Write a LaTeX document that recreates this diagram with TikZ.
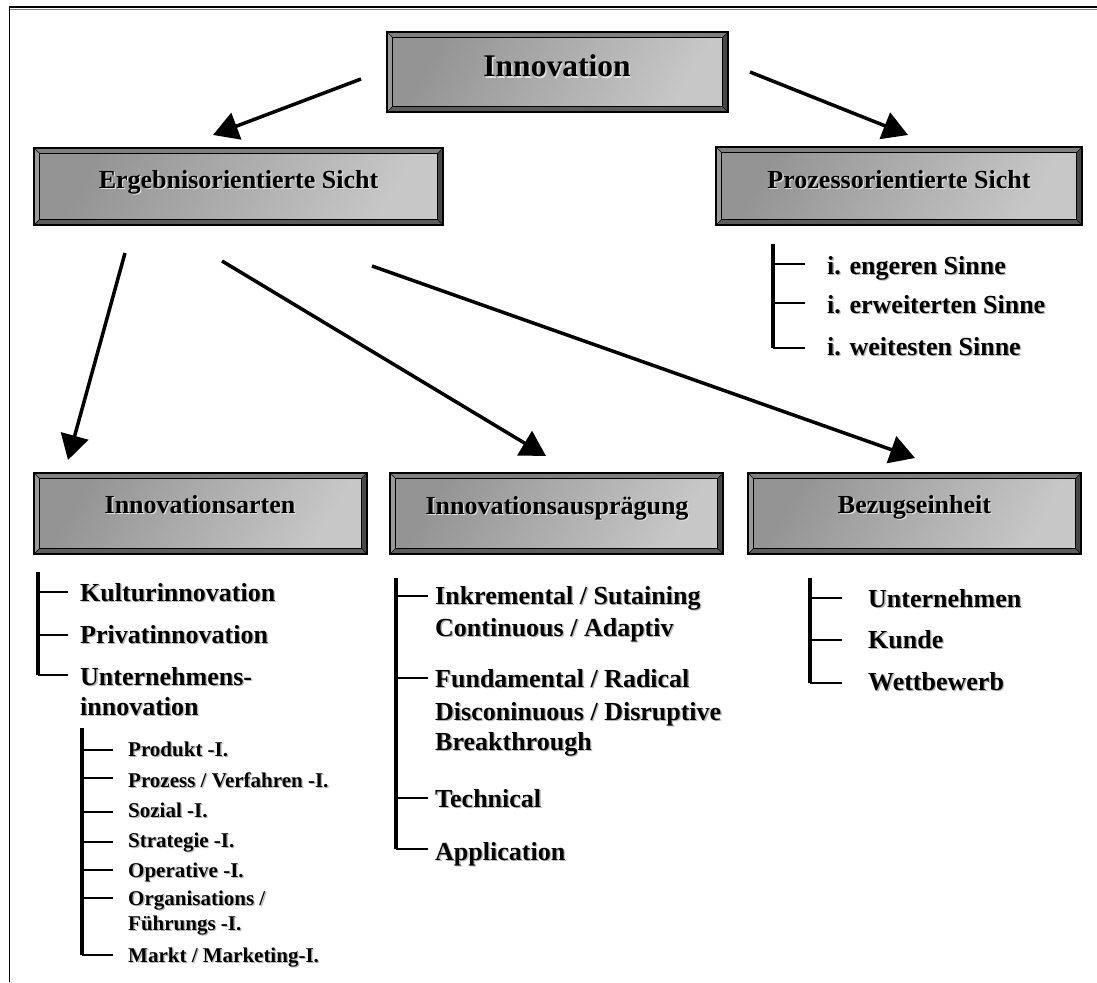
\documentclass[tikz,border=0pt]{standalone}
\usepackage{fontspec}
\setmainfont{Liberation Serif}
\usetikzlibrary{arrows.meta}

\definecolor{bevTop}{gray}{0.50}
\definecolor{bevLeft}{gray}{0.60}
\definecolor{bevRight}{gray}{0.28}
\definecolor{bevBot}{gray}{0.36}
\definecolor{fillDark}{gray}{0.58}
\definecolor{fillMid}{gray}{0.73}
\definecolor{fillLight}{gray}{0.78}
\definecolor{shadowList}{gray}{0.72}
\definecolor{shadowBox}{gray}{0.88}

% text with a soft drop shadow
\newcommand\ShTxt[2]{\makebox[0pt][l]{\kern1.3pt\raisebox{-1.3pt}{\textcolor{#1}{#2}}}#2}

% bevelled grey box: name, x1, y1, x2, y2, text x, baseline y, font size, label
\newcommand\BevelBox[9]{%
  \fill[bevTop] (#2,#3) -- (#4,#3) -- ({#4-5.5},{#3+5.5}) -- ({#2+5.5},{#3+5.5}) -- cycle;
  \fill[bevLeft] (#2,#3) -- ({#2+5.5},{#3+5.5}) -- ({#2+5.5},{#5-5.5}) -- (#2,#5) -- cycle;
  \fill[bevRight] (#4,#3) -- (#4,#5) -- ({#4-5.5},{#5-5.5}) -- ({#4-5.5},{#3+5.5}) -- cycle;
  \fill[bevBot] (#2,#5) -- (#4,#5) -- ({#4-5.5},{#5-5.5}) -- ({#2+5.5},{#5-5.5}) -- cycle;
  \shade[top color=fillDark, middle color=fillMid, bottom color=fillLight, shading angle=60]
    ({#2+5.5},{#3+5.5}) rectangle ({#4-5.5},{#5-5.5});
  \draw[line width=0.9pt] ({#2+5.5},{#3+5.5}) rectangle ({#4-5.5},{#5-5.5});
  \draw[line width=0.6pt] (#2,#3) -- ++(5.5,5.5) (#4,#3) -- ++(-5.5,5.5)
    (#2,#5) -- ++(5.5,-5.5) (#4,#5) -- ++(-5.5,-5.5);
  \draw[line width=1.6pt] (#2,#3) rectangle (#4,#5);
  \node[boxlbl, font=\fontsize{#8}{#8}\selectfont\bfseries] (#1) at (#6,#7) {\ShTxt{shadowBox}{#9}};
}

\tikzset{
  boxlbl/.style={inner sep=0pt, anchor=base},
  item/.style={inner sep=0pt, anchor=base west, font=\fontsize{26}{30}\selectfont\bfseries},
  subitem/.style={inner sep=0pt, anchor=base west, font=\fontsize{21}{25}\selectfont\bfseries},
  trunk/.style={line width=3.4pt},
  elbow/.style={line width=2.6pt},
  twig/.style={line width=1.8pt},
  arr/.style={line width=3.5pt, -{Triangle[length=25pt,width=28pt]}},
}

\begin{document}
\begin{tikzpicture}[x=1pt, y=-1pt]
\useasboundingbox (0,0) rectangle (1097,982);

% frame
\draw[line width=2pt] (9,7.5) -- (1097,7.5);
\draw[gray, line width=1pt] (9,9.4) -- (1097,9.4);
\draw[line width=1.3pt] (9.5,7) -- (9.5,982);

% boxes
\BevelBox{inno}{387}{32}{728}{112}{557}{77}{31.5}{Innovation}
\BevelBox{ergeb}{34}{148}{443}{225}{238.5}{188}{26}{Ergebnisorientierte Sicht}
\BevelBox{proz}{716}{147}{1082}{225}{899}{188}{26}{Prozessorientierte Sicht}
\BevelBox{arten}{34}{473}{367}{554}{200}{513}{26}{Innovationsarten}
\BevelBox{auspr}{390}{473}{723}{554}{557}{514}{26}{Innovationsausprägung}
\BevelBox{bezug}{748}{473}{1081}{554}{914.5}{513}{26}{Bezugseinheit}

% arrows
\coordinate (a1s) at (361,79);  \coordinate (a1e) at (213,135);
\coordinate (a2s) at (750,72);  \coordinate (a2e) at (908,135);
\coordinate (a3s) at (125,253); \coordinate (a3e) at (68,460);
\coordinate (a4s) at (222,261); \coordinate (a4e) at (546,456);
\coordinate (a5s) at (372,266); \coordinate (a5e) at (915,458);
\draw[arr] (a1s) -- (a1e);
\draw[arr] (a2s) -- (a2e);
\draw[arr] (a3s) -- (a3e);
\draw[arr] (a4s) -- (a4e);
\draw[arr] (a5s) -- (a5e);

% process view list
\node[item] (p1) at (827,274) {\ShTxt{shadowList}{i. engeren Sinne}};
\node[item] (p2) at (827,313) {\ShTxt{shadowList}{i. erweiterten Sinne}};
\node[item] (p3) at (827,355) {\ShTxt{shadowList}{i. weitesten Sinne}};
\coordinate (pTop) at (773,244);
\draw[trunk] (pTop) -- ([shift={(-54,-7)}]p3.base west);
\draw[elbow] ([shift={(-54,-7)}]p3.base west) -- ++(32,0);
\draw[twig] ([shift={(-22,-10)}]p1.base west) -- ++(-32,0);
\draw[twig] ([shift={(-22,-10)}]p2.base west) -- ++(-32,0);

% kinds of innovation
\node[item] (k1) at (80,601) {\ShTxt{shadowList}{Kulturinnovation}};
\node[item] (k2) at (80,643) {\ShTxt{shadowList}{Privatinnovation}};
\node[item] (k3) at (80,685) {\ShTxt{shadowList}{Unternehmens-}};
\node[item] (k3b) at (80,715) {\ShTxt{shadowList}{innovation}};
\coordinate (kTop) at (38,572);
\draw[trunk] (kTop) -- ([shift={(-42,-10)}]k3.base west);
\draw[elbow] ([shift={(-42,-10)}]k3.base west) -- ++(30,0);
\draw[twig] ([shift={(-12,-9)}]k1.base west) -- ++(-30,0);
\draw[twig] ([shift={(-12,-8)}]k2.base west) -- ++(-30,0);

% company innovation sub-list
\node[subitem] (s1) at (128,756) {\ShTxt{shadowList}{Produkt -I.}};
\node[subitem] (s2) at (128,787) {\ShTxt{shadowList}{Prozess / Verfahren -I.}};
\node[subitem] (s3) at (128,817) {\ShTxt{shadowList}{Sozial -I.}};
\node[subitem] (s4) at (128,847) {\ShTxt{shadowList}{Strategie -I.}};
\node[subitem] (s5) at (128,877) {\ShTxt{shadowList}{Operative -I.}};
\node[subitem] (s6) at (128,905) {\ShTxt{shadowList}{Organisations /}};
\node[subitem] (s6b) at (128,930) {\ShTxt{shadowList}{Führungs -I.}};
\node[subitem] (s7) at (128,962) {\ShTxt{shadowList}{Markt / Marketing-I.}};
\coordinate (sTop) at (82,728);
\draw[trunk] (sTop) -- ([shift={(-46,-7)}]s7.base west);
\draw[elbow] ([shift={(-46,-7)}]s7.base west) -- ++(31,0);
\foreach \n/\d in {s1/6, s2/9, s3/5, s4/5, s5/7, s6/7}
  \draw[twig] ([shift={(-15,-\d)}]\n.base west) -- ++(-31,0);

% degree of innovation
\node[item] (i1) at (435,604) {\ShTxt{shadowList}{Inkremental / Sutaining}};
\node[item] (i1b) at (435,636) {\ShTxt{shadowList}{Continuous / Adaptiv}};
\node[item] (i2) at (435,687) {\ShTxt{shadowList}{Fundamental / Radical}};
\node[item] (i2b) at (435,720) {\ShTxt{shadowList}{Disconinuous / Disruptive}};
\node[item] (i2c) at (435,750) {\ShTxt{shadowList}{Breakthrough}};
\node[item] (i3) at (435,807) {\ShTxt{shadowList}{Technical}};
\node[item] (i4) at (435,860) {\ShTxt{shadowList}{Application}};
\coordinate (iTop) at (396,578);
\draw[trunk] (iTop) -- ([shift={(-39,-11)}]i4.base west);
\draw[elbow] ([shift={(-39,-11)}]i4.base west) -- ++(32,0);
\draw[twig] ([shift={(-7,-8)}]i1.base west) -- ++(-32,0);
\draw[twig] ([shift={(-7,-9)}]i2.base west) -- ++(-32,0);
\draw[twig] ([shift={(-7,-9)}]i3.base west) -- ++(-32,0);

% reference unit
\node[item] (b1) at (868,607) {\ShTxt{shadowList}{Unternehmen}};
\node[item] (b2) at (868,648) {\ShTxt{shadowList}{Kunde}};
\node[item] (b3) at (868,690) {\ShTxt{shadowList}{Wettbewerb}};
\coordinate (bTop) at (810,578);
\draw[trunk] (bTop) -- ([shift={(-58,-7)}]b3.base west);
\draw[elbow] ([shift={(-58,-7)}]b3.base west) -- ++(32,0);
\draw[twig] ([shift={(-26,-9)}]b1.base west) -- ++(-32,0);
\draw[twig] ([shift={(-26,-8)}]b2.base west) -- ++(-32,0);
\end{tikzpicture}
\end{document}
